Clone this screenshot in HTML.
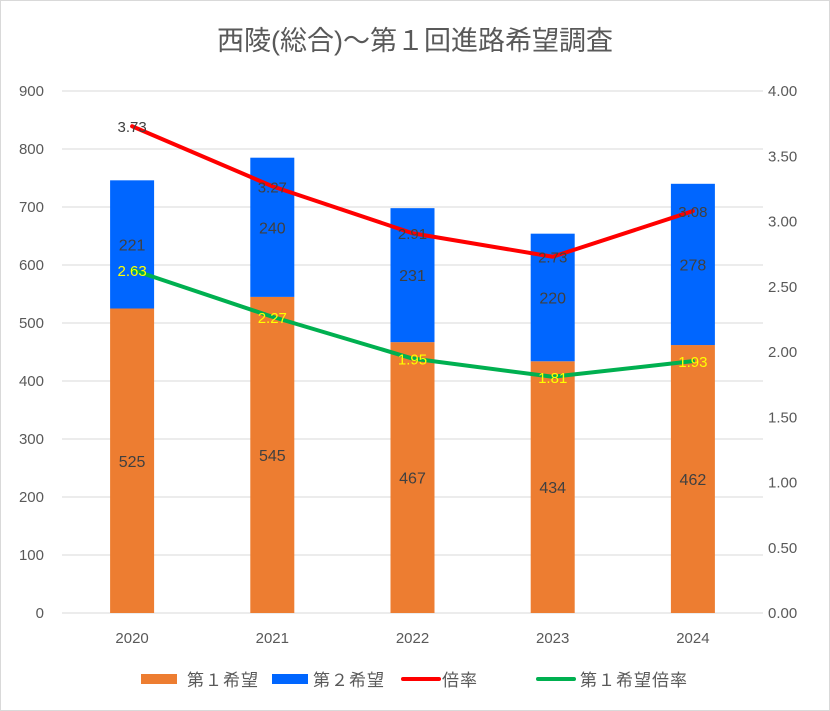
<!DOCTYPE html>
<html><head><meta charset="utf-8"><style>
body{margin:0;background:#fff;}
svg{display:block;font-family:"Liberation Sans","Noto Sans CJK JP",sans-serif;}
</style></head><body>
<svg id="c" width="830" height="711" xmlns="http://www.w3.org/2000/svg">
<rect x="0.5" y="0.5" width="829" height="710" fill="#fff" stroke="#d9d9d9"/>
<text x="415" y="50" text-anchor="middle" font-size="27" fill="#595959">西陵(総合)～第１回進路希望調査</text>
<g id="grid"></g><g id="bars"></g><g id="lines"></g><g id="labels"></g><g id="axes"></g>
<g font-size="17" letter-spacing="1" fill="#595959">
<rect x="141" y="674" width="36" height="10" fill="#ED7D31"/>
<text x="187" y="686">第１希望</text>
<rect x="272" y="674" width="36" height="10" fill="#0066FF"/>
<text x="313" y="686">第２希望</text>
<line x1="403" y1="679" x2="439" y2="679" stroke="#FF0000" stroke-width="4" stroke-linecap="round"/>
<text x="442" y="686">倍率</text>
<line x1="538" y1="679" x2="574" y2="679" stroke="#00B050" stroke-width="4" stroke-linecap="round"/>
<text x="580" y="686">第１希望倍率</text>
</g>
</svg>
<script>
const categories=["2020","2021","2022","2023","2024"];
const first=[525,545,467,434,462];
const second=[221,240,231,220,278];
const ratio=[3.73,3.27,2.91,2.73,3.08];
const firstRatio=[2.63,2.27,1.95,1.81,1.93];
const leftTicks=[0,100,200,300,400,500,600,700,800,900];
const rightTicks=["0.00","0.50","1.00","1.50","2.00","2.50","3.00","3.50","4.00"];
const NS="http://www.w3.org/2000/svg";
const L=62,R=763,T=91,B=613;
const yL=v=>B-(v/900)*(B-T);
const yR=v=>B-(v/4)*(B-T);
const step=(R-L)/categories.length;
const xC=i=>L+step*(i+0.5);
const bw=44;
function mk(tag,attrs,parent,txt){const e=document.createElementNS(NS,tag);for(const k in attrs)e.setAttribute(k,attrs[k]);if(txt!==undefined)e.textContent=txt;document.getElementById(parent).appendChild(e);return e;}
leftTicks.forEach(t=>{
 const g=mk('line',{x1:L,x2:R,y1:yL(t),y2:yL(t),stroke:'#d9d9d9','stroke-width':1},'grid');
 
 
 const tx=mk('text',{x:44,y:yL(t)+5,'text-anchor':'end','font-size':15,fill:'#595959'},'axes',String(t));
 
 
});
rightTicks.forEach(t=>{
 const tx=mk('text',{x:768,y:yR(parseFloat(t))+5,'font-size':15,fill:'#595959'},'axes',t);
 
 
});
categories.forEach((c,i)=>{
 const tx=mk('text',{x:xC(i),y:643,'text-anchor':'middle','font-size':15,fill:'#595959'},'axes',c);
 
 
 const b1=mk('rect',{x:xC(i)-bw/2,y:yL(first[i]),width:bw,height:B-yL(first[i]),fill:'#ED7D31'},'bars');
 
 
 const b2=mk('rect',{x:xC(i)-bw/2,y:yL(first[i]+second[i]),width:bw,height:yL(first[i])-yL(first[i]+second[i]),fill:'#0066FF'},'bars');
 
 
 const l1=mk('text',{x:xC(i),y:(yL(first[i])+B)/2+6,'text-anchor':'middle','font-size':16,fill:'#404040'},'labels',String(first[i]));
 
 
 const l2=mk('text',{x:xC(i),y:(yL(first[i])+yL(first[i]+second[i]))/2+6,'text-anchor':'middle','font-size':16,fill:'#404040'},'labels',String(second[i]));
 
 
 const l3=mk('text',{x:xC(i),y:yR(ratio[i])+6,'text-anchor':'middle','font-size':15,fill:'#404040'},'labels',ratio[i].toFixed(2));
 
 
 const l4=mk('text',{x:xC(i),y:yR(firstRatio[i])+6,'text-anchor':'middle','font-size':15,fill:'#FFFF00'},'labels',firstRatio[i].toFixed(2));
 
 
});
const p1=mk('polyline',{points:ratio.map((v,i)=>xC(i)+','+yR(v)).join(' '),fill:'none',stroke:'#FF0000','stroke-width':4,'stroke-linejoin':'round','stroke-linecap':'round'},'lines');


const p2=mk('polyline',{points:firstRatio.map((v,i)=>xC(i)+','+yR(v)).join(' '),fill:'none',stroke:'#00B050','stroke-width':4,'stroke-linejoin':'round','stroke-linecap':'round'},'lines');


</script>
</body></html>
